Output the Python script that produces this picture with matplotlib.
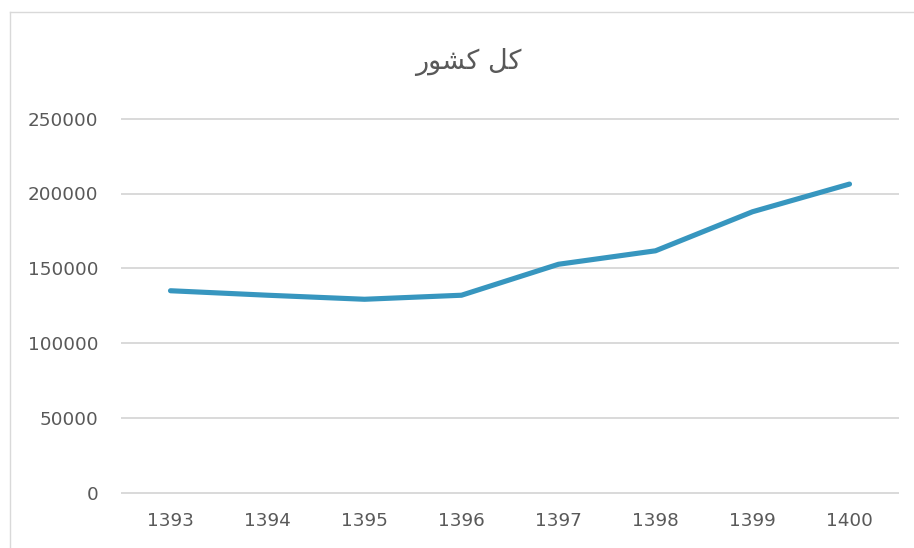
import matplotlib
matplotlib.use("Agg")
import matplotlib.pyplot as plt
from matplotlib.lines import Line2D

# Data
years = ["1393", "1394", "1395", "1396", "1397", "1398", "1399", "1400"]
values = [135000, 132000, 129300, 132000, 152700, 161700, 187800, 206300]
y_ticks = [0, 50000, 100000, 150000, 200000, 250000]
# Title "کل کشور" in visual (left-to-right) order with Arabic presentation forms
title_text = "\uFEAD\uFEEE\uFEB8\uFB90 \uFEDE\uFB90"

W, H = 914, 548
fig = plt.figure(figsize=(W / 100, H / 100), dpi=100)
fig.patch.set_facecolor("white")

# Chart-area border (top and left visible)
fig.add_artist(Line2D([9.5 / W, 9.5 / W], [0, 1 - 11.5 / H], transform=fig.transFigure,
                      color="#D9D9D9", lw=1.0))
fig.add_artist(Line2D([9.5 / W, 1.0], [1 - 11.5 / H, 1 - 11.5 / H], transform=fig.transFigure,
                      color="#D9D9D9", lw=1.0))

ax = fig.add_axes([122 / W, 55.3 / H, 776 / W, 374 / H])
x = list(range(len(years)))
ax.plot(x, values, color="#3796BF", lw=3.7, solid_capstyle="round", solid_joinstyle="round", zorder=3)

ax.set_xlim(-0.5, len(years) - 0.5)
ax.set_ylim(0, 250000)
ax.set_yticks(y_ticks)
ax.set_yticklabels([str(v) for v in y_ticks])
ax.set_xticks(x)
ax.set_xticklabels(years)
ax.grid(axis="y", color="#D9D9D9", lw=1.4)
for gl in ax.get_ygridlines():
    gl.set_clip_on(False)
ax.set_axisbelow(True)
for s in ax.spines.values():
    s.set_visible(False)
ax.tick_params(axis="both", length=0, labelsize=13.2, labelcolor="#595959")
ax.tick_params(axis="y", pad=17)
ax.tick_params(axis="x", pad=14)
for lab in ax.get_xticklabels() + ax.get_yticklabels():
    lab.set_family(["DejaVu Sans"])

fig.text(468 / W, 1 - 62 / H, title_text, ha="center", va="center", fontsize=19.5,
         color="#595959", family=["DejaVu Sans"])

fig.savefig("out.png", dpi=100, facecolor="white")
